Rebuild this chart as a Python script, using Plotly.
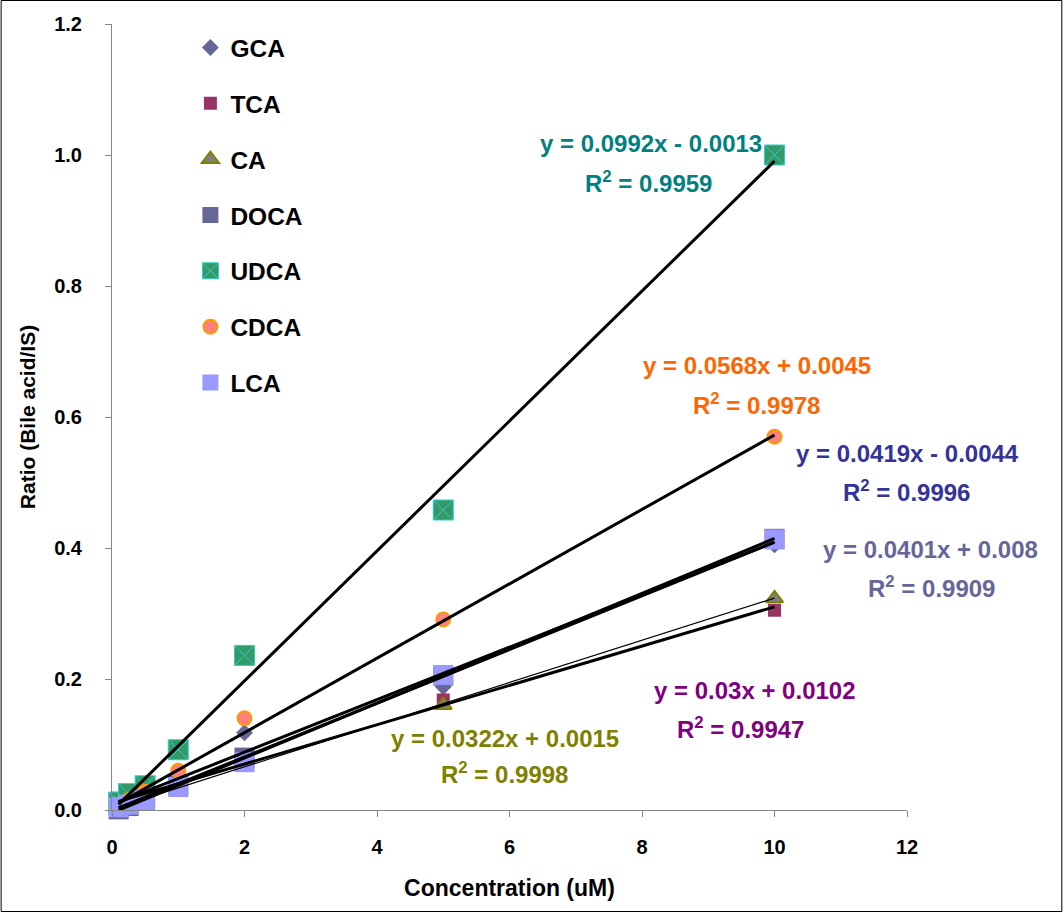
import plotly.graph_objects as go

# ---------------- data ----------------
conc = [0.1, 0.25, 0.5, 1, 2, 5, 10]

GCA = [0.010, 0.015, 0.025, 0.045, 0.118, 0.188, 0.405]
TCA = [0.018, 0.020, 0.025, 0.035, 0.081, 0.168, 0.305]
CA = [0.005, 0.010, 0.018, 0.034, 0.068, 0.160, 0.323]
DOCA = [0.001, 0.006, 0.017, 0.038, 0.080, 0.205, 0.414]
UDCA = [0.012, 0.025, 0.037, 0.092, 0.236, 0.458, 1.000]
CDCA = [0.008, 0.015, 0.028, 0.060, 0.140, 0.291, 0.570]
LCA = [0.004, 0.008, 0.015, 0.035, 0.073, 0.206, 0.413]

series_names = ["GCA", "TCA", "CA", "DOCA", "UDCA", "CDCA", "LCA"]
series_values = [GCA, TCA, CA, DOCA, UDCA, CDCA, LCA]

# linear trendlines (slope, intercept) per series
slopes = [0.0401, 0.0300, 0.0322, 0.0419, 0.0992, 0.0568, 0.0410]
intercepts = [0.0080, 0.0102, 0.0015, -0.0044, -0.0013, 0.0045, -0.0010]
fit_range = [0.1, 10]

# equation labels
eq_text = ["y = 0.0992x - 0.0013", "y = 0.0568x + 0.0045", "y = 0.0419x - 0.0044",
           "y = 0.0401x + 0.008", "y = 0.03x + 0.0102", "y = 0.0322x + 0.0015"]
r2_text = ["0.9959", "0.9978", "0.9996", "0.9909", "0.9947", "0.9998"]

x_ticks = [0, 2, 4, 6, 8, 10, 12]
y_ticks = [0.0, 0.2, 0.4, 0.6, 0.8, 1.0, 1.2]

# ---------------- styles ----------------
marker_styles = {
    "GCA": dict(symbol="diamond", size=13, color="#666699", line=dict(width=0)),
    "TCA": dict(symbol="square", size=13, color="#993366", line=dict(width=0)),
    "CA": dict(symbol="triangle-up", size=15, color="#808080", line=dict(color="#808000", width=2)),
    "DOCA": dict(symbol="square", size=20, color="#666699", line=dict(width=0)),
    "UDCA": dict(symbol="square-x", size=20, color="#339966", line=dict(color="#33CCCC", width=1)),
    "CDCA": dict(symbol="circle", size=14, color="#FF8080", line=dict(color="#FF9900", width=2)),
    "LCA": dict(symbol="square", size=20, color="#9999FF", line=dict(width=0)),
}
line_widths = [3, 3, 1.2, 3, 3, 3, 3]

# plot area in pixels: x 111.5..907.5, y 24..810
PL, PW, PB, PH = 111.5, 796.0, 810.0, 786.0

eq_colors = ["#008080", "#FF6600", "#333399", "#666699", "#800080", "#808000"]
eq_px = [(651, 143), (757, 366), (908, 453), (931, 549), (755, 690), (505, 738)]
r2_px = [(649, 182), (757, 404), (907, 491), (932, 587), (741, 728), (504, 773)]

fig = go.Figure()

for i, (name, vals) in enumerate(zip(series_names, series_values)):
    fig.add_trace(go.Scatter(
        x=conc, y=vals, mode="markers", name=name,
        marker=marker_styles[name], legendgroup=name,
        cliponaxis=False,
    ))

for i, name in enumerate(series_names):
    xs = fit_range
    ys = [slopes[i] * xv + intercepts[i] for xv in xs]
    fig.add_trace(go.Scatter(
        x=xs, y=ys, mode="lines", showlegend=False,
        line=dict(color="black", width=line_widths[i]),
        hoverinfo="skip",
    ))

eq_font = dict(family="Liberation Sans, Arial, sans-serif", size=24)
for i in range(len(eq_text)):
    for txt, (px, py) in ((eq_text[i], eq_px[i]),
                          ("R<sup>2</sup> = " + r2_text[i], r2_px[i])):
        fig.add_annotation(xref="paper", yref="paper",
                           x=(px - PL) / PW, y=(PB - py) / PH,
                           text="<b>" + txt + "</b>",
                           showarrow=False, font=dict(color=eq_colors[i], **eq_font),
                           xanchor="center", yanchor="middle")

# outer frame of the picture
fig.add_shape(type="rect", xref="paper", yref="paper",
              x0=(0.5 - PL) / PW, x1=(1062.5 - PL) / PW,
              y0=(PB - 911.5) / PH, y1=(PB - 0.5) / PH,
              line=dict(color="black", width=1), fillcolor="rgba(0,0,0,0)", layer="below")

tick_font = dict(family="Liberation Sans, Arial, sans-serif", size=20, color="black")
title_font = dict(family="Liberation Sans, Arial, sans-serif", size=23, color="black")

fig.update_layout(
    width=1064, height=913,
    margin=dict(l=111.5, r=156.5, t=24, b=103, pad=0),
    paper_bgcolor="white", plot_bgcolor="white",
    showlegend=True,
    legend=dict(
        x=(190 - PL) / PW, y=(PB - 25) / PH, xanchor="left", yanchor="top",
        font=dict(family="Liberation Sans, Arial, sans-serif", size=24.5, color="black", weight="bold"),
        traceorder="grouped", tracegroupgap=21,
        bgcolor="rgba(0,0,0,0)", itemsizing="trace",
    ),
    xaxis=dict(
        range=[0, 12], tickvals=x_ticks, ticktext=[str(v) for v in x_ticks],
        showgrid=False, zeroline=False, showline=True, linecolor="#868686", linewidth=1,
        ticks="outside", ticklen=6, tickcolor="#868686", ticklabelstandoff=13,
        tickfont=dict(weight="bold", **tick_font),
        title=dict(text="<b>Concentration (uM)</b>", font=title_font, standoff=22),
    ),
    yaxis=dict(
        range=[0, 1.2], tickvals=y_ticks, ticktext=["%.1f" % v for v in y_ticks],
        showgrid=False, zeroline=False, showline=True, linecolor="#868686", linewidth=1,
        ticks="outside", ticklen=6, tickcolor="#868686", ticklabelstandoff=19,
        tickfont=dict(weight="bold", **tick_font),
        title=dict(text="<b>Ratio (Bile acid/IS)</b>",
                   font=dict(family="Liberation Sans, Arial, sans-serif", size=21, color="black"),
                   standoff=12),
    ),
)

fig.write_html("out.html", config={"displayModeBar": False},
               post_script="document.body.style.margin='0';")
